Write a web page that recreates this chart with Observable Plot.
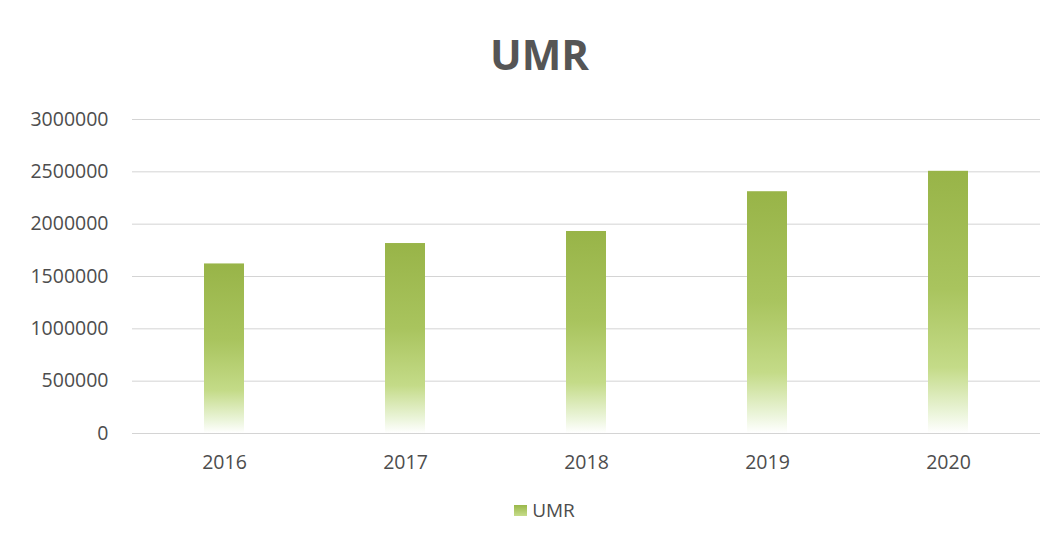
<!DOCTYPE html>
<html>
<head>
<meta charset="utf-8">
<script src="https://cdn.jsdelivr.net/npm/d3@7"></script>
<script src="https://cdn.jsdelivr.net/npm/@observablehq/plot@0.6"></script>
<style>
  html, body { margin: 0; padding: 0; background: #fff; }
  body { width: 1059px; height: 546px; overflow: hidden; font-family: "Open Sans", sans-serif; }
  #title { height: 90px; position: relative; }
  #title span { position: absolute; left: 20px; right: 0; top: 33px; text-align: center; font-size: 42px; font-weight: 700; color: #555; line-height: 1; }
  #chart svg { display: block; }
  #legend { display: flex; justify-content: center; align-items: center; margin-top: 12px; color: #4d4d4d; font-size: 19px; padding-left: 30px; }
  #legend .sw { width: 13px; height: 11px; margin-right: 5px; background: linear-gradient(#9ab84a, #c6dc8a); }
</style>
</head>
<body>
<div id="title"><span>UMR</span></div>
<div id="chart"></div>
<div id="legend"><div class="sw"></div><span>UMR</span></div>
<script>
const years = ["2016", "2017", "2018", "2019", "2020"];
const umr = [1620000, 1815000, 1930000, 2310000, 2505000];
const yTicks = [0, 500000, 1000000, 1500000, 2000000, 2500000, 3000000];
const seriesName = "UMR";

const data = years.map((y, i) => ({year: y, value: umr[i], series: seriesName}));

const plot = Plot.plot({
  width: 1059,
  height: 395,
  marginTop: 29,
  marginBottom: 52,
  marginLeft: 132,
  marginRight: 19,
  style: {fontFamily: "Open Sans, sans-serif", fontSize: "19.5px", color: "#4d4d4d", background: "#fff"},
  x: {domain: years, label: null, paddingInner: 0.78, paddingOuter: 0.39, tickSize: 0},
  y: {domain: [0, 3000000], ticks: yTicks, label: null, tickFormat: d => String(d), tickSize: 0},
  marks: [
    () => {
      const ns = "http://www.w3.org/2000/svg";
      const defs = document.createElementNS(ns, "defs");
      defs.innerHTML = `<linearGradient id="barGrad" x1="0" y1="0" x2="0" y2="1">
        <stop offset="0%" stop-color="#98b448"/>
        <stop offset="45%" stop-color="#a9c45e"/>
        <stop offset="75%" stop-color="#c4db88"/>
        <stop offset="92%" stop-color="#eaf4d8"/>
        <stop offset="100%" stop-color="#ffffff"/>
      </linearGradient>`;
      return defs;
    },
    Plot.gridY(yTicks, {stroke: "#d4d4d4", strokeOpacity: 1, strokeWidth: 1}),
    Plot.barY(data, {x: "year", y: "value", fill: "url(#barGrad)"}),
    Plot.axisY({ticks: yTicks, tickFormat: d => String(d), tickSize: 0, tickPadding: 24, fill: "#4d4d4d"}),
    Plot.axisX({tickSize: 0, tickPadding: 22, fill: "#4d4d4d"})
  ]
});
document.getElementById("chart").appendChild(plot);
</script>
</body>
</html>
